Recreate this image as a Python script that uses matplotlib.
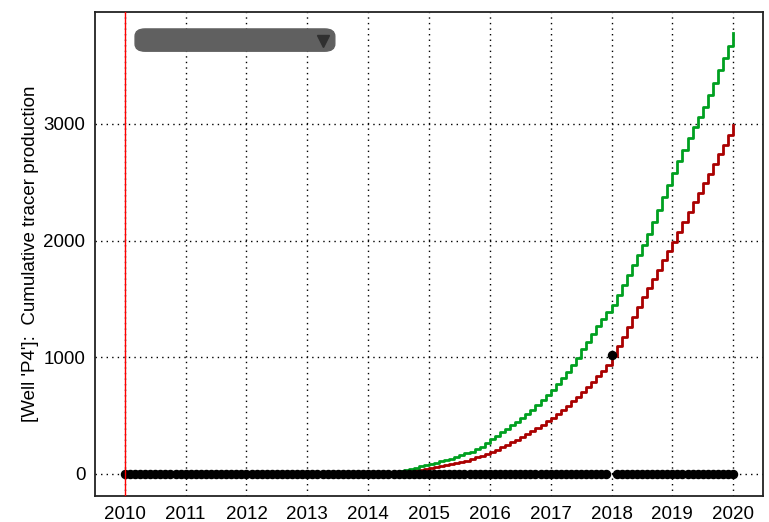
import matplotlib
matplotlib.use("Agg")
import matplotlib.pyplot as plt
import numpy as np
from matplotlib.patches import FancyBboxPatch

plt.rcParams['font.family'] = ['Liberation Sans', 'DejaVu Sans']

# simulated cumulative tracer production, monthly from 2014-01 to 2020-01
green = [0, 0, 0, 3, 10, 18, 28, 36, 44, 54, 64, 76,
         88, 98, 108, 120, 132, 146, 160, 176, 192, 212, 234, 262,
         300, 328, 358, 388, 418, 448, 480, 515, 552, 592, 634, 676,
         720, 770, 822, 876, 932, 990, 1070, 1135, 1200, 1265, 1330, 1390,
         1450, 1535, 1620, 1705, 1790, 1875, 1960, 2060, 2160, 2265, 2370, 2475,
         2580, 2680, 2780, 2880, 2975, 3060, 3145, 3250, 3355, 3460, 3565, 3670,
         3780]
red = [0, 0, 0, 1, 4, 8, 14, 20, 26, 32, 38, 44,
       50, 58, 66, 74, 82, 92, 103, 115, 128, 142, 157, 172,
       189, 208, 228, 249, 270, 293, 317, 342, 368, 395, 423, 451,
       480, 514, 549, 585, 623, 662, 703, 746, 791, 837, 885, 935,
       1010, 1093, 1176, 1260, 1345, 1430, 1517, 1595, 1674, 1752, 1830, 1910,
       1990, 2075, 2160, 2245, 2330, 2410, 2494, 2575, 2656, 2740, 2822, 2905,
       2990]
sim_start = 2014

# observed values, monthly 2010-01 .. 2020-01 (2018-01 = 1020)
obs = [0] * 96 + [1020] + [0] * 24
obs_start = 2010

year_ticks = [2010, 2011, 2012, 2013, 2014, 2015, 2016, 2017, 2018, 2019, 2020]
y_ticks = [0, 1000, 2000, 3000]

t_sim = sim_start + np.arange(len(green)) / 12.0
t_obs = obs_start + np.arange(len(obs)) / 12.0

fig = plt.figure(figsize=(7.69, 5.22), dpi=100)
ax = fig.add_axes([95 / 769, 26 / 522, 668 / 769, 484 / 522])

ax.grid(True, color='black', linestyle=(0, (1, 3)), linewidth=1.0)
ax.set_axisbelow(True)

ax.axvline(2010, color='#ff0000', linewidth=1.0, zorder=5)
ax.plot([2010, 2014], [0, 0], color='#aa0000', linewidth=2, zorder=3)
ax.step(t_sim, red, where='post', color='#aa0000', linewidth=2, zorder=3)
ax.step(t_sim, green, where='post', color='#00a020', linewidth=2, zorder=3)
ax.plot(t_obs, obs, 'o', color='black', markersize=5.8, linestyle='none', zorder=4)

ax.set_xlim(2009.51, 2020.49)
ax.set_ylim(-189, 3960)
ax.set_xticks(year_ticks)
ax.set_yticks(y_ticks)
ax.tick_params(length=0, labelsize=13.5, pad=7)
ax.set_ylabel("[Well 'P4']:  Cumulative tracer production", fontsize=13.5, labelpad=3)
for s in ax.spines.values():
    s.set_linewidth(1.3)
    s.set_color('#222222')

# dropdown widget in the corner
box = FancyBboxPatch((0.06, 0.919), 0.299, 0.046, boxstyle="round,pad=0,rounding_size=0.015",
                     transform=ax.transAxes, facecolor='#606060', edgecolor='#606060', zorder=6)
ax.add_patch(box)
ax.plot([0.341], [0.94], marker='v', color='#303030', markersize=8,
        transform=ax.transAxes, zorder=7)

fig.savefig('out.png', dpi=100)
